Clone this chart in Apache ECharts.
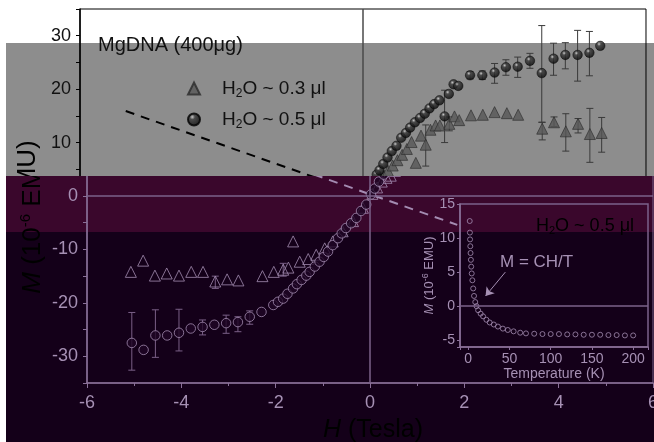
<!DOCTYPE html>
<html><head><meta charset="utf-8">
<script src="https://cdn.jsdelivr.net/npm/echarts@6/dist/echarts.min.js"></script>
<style>
html,body{margin:0;padding:0;background:#fff;width:654px;height:442px;overflow:hidden;}
#top{position:absolute;left:0;top:0;width:654px;height:176px;overflow:hidden;}
#grayband{position:absolute;left:6px;top:43px;width:648px;height:133px;background:#8d8d8d;}
#c1{position:absolute;left:0;top:0;width:654px;height:442px;}
#bot{position:absolute;left:6px;top:176px;width:648px;height:266px;overflow:hidden;background:linear-gradient(to bottom,#3a072c 0,#3a072c 56px,#140019 56px,#140019 100%);}
#c2{position:absolute;left:1px;top:-176px;width:654px;height:442px;}
</style></head>
<body>
<div id="top"><div id="grayband"></div><div id="c1"></div></div>
<div id="bot"><div id="c2"></div></div>
<script>
// ---------- data ----------
const xTickLabels = [-6,-4,-2,0,2,4,6];
const yTickLabels = [-30,-20,-10,0,10,20,30];
const insetXTicks = [0,50,100,150,200];
const insetYTicks = [-5,0,5,10,15];
const seriesNames = ['H2O ~ 0.3 μl','H2O ~ 0.5 μl'];

// H2O ~ 0.3 ul (triangles): [H (Tesla), M (1e-6 EMU)]
const tri03 = [[-5.07,-14.2],[-4.81,-12.1],[-4.56,-14.9],[-4.31,-14.5],[-4.05,-14.9],[-3.79,-14.2],[-3.54,-14.2],[-3.28,-16.0],[-3.03,-15.6],[-2.79,-15.8],[-2.28,-15.0],[-2.04,-14.2],[-1.84,-13.8],[-1.73,-13.4],[-1.63,-8.5],[-1.49,-12.3],[-1.31,-11.8],[-1.14,-11.0],[-0.96,-9.8],[-0.79,-8.5],[-0.58,-6.6],[-0.36,-4.7],[-0.15,-2.2],[0.05,0.4],[0.15,1.6],[0.25,2.7],[0.35,3.4],[0.44,3.8],[0.53,4.7],[0.63,5.7],[0.73,6.7],[0.83,7.7],[0.93,8.8],[1.03,10.1],[1.12,6.2],[1.23,11.3],[1.33,9.6],[1.43,12.4],[1.54,13.2],[1.63,13.2],[1.83,13.5],[1.94,14.9],[2.04,14.2],[2.29,15.1],[2.54,15.2],[2.79,15.7],[3.05,15.5],[3.29,15.2],[3.80,12.6],[4.05,13.8],[4.30,12.1],[4.56,13.5],[4.81,11.6],[5.06,11.8]];

// H2O ~ 0.5 ul (spheres)
const circ05 = [[-5.05,-27.5],[-4.8,-28.8],[-4.55,-26.1],[-4.3,-26.1],[-4.05,-25.6],[-3.8,-24.8],[-3.55,-24.5],[-3.3,-24.1],[-3.05,-23.8],[-2.8,-23.6],[-2.55,-22.6],[-2.3,-21.7],[-2.05,-20.4],[-1.95,-19.8],[-1.84,-19.2],[-1.75,-18.3],[-1.63,-17.3],[-1.55,-16.5],[-1.45,-15.7],[-1.35,-14.9],[-1.28,-14.2],[-1.17,-13.2],[-1.07,-12.3],[-0.98,-11.4],[-0.89,-10.4],[-0.79,-9.2],[-0.68,-7.9],[-0.6,-7.0],[-0.51,-6.0],[-0.4,-5.1],[-0.29,-4.1],[-0.19,-2.8],[-0.08,-1.6],[0.02,0.3],[0.1,1.4],[0.19,2.7],[0.29,4.0],[0.35,4.8],[0.43,6.0],[0.52,7.2],[0.61,8.4],[0.71,9.4],[0.81,10.9],[0.91,11.8],[1.0,12.8],[1.1,13.8],[1.21,14.6],[1.31,15.4],[1.41,16.4],[1.51,17.2],[1.62,17.9],[1.73,14.9],[1.82,19.1],[1.92,20.9],[2.02,20.6],[2.27,22.6],[2.53,22.6],[2.79,23.1],[3.03,24.1],[3.28,24.2],[3.54,25.3],[3.79,23.0],[4.04,25.7],[4.29,26.4],[4.55,26.4],[4.8,26.8],[5.03,28.1]];

// error bars: [H, low, high]
const triErr = [[5.06,8.2,14.7],[4.81,6.3,16.4],[4.56,11.8,14.5],[4.30,8.4,15.4],[4.05,13.0,14.8],[3.80,10.5,13.8],[1.33,5.6,13.3],[1.83,12.2,14.8],[-3.28,-17.3,-15.0],[-1.84,-15.0,-12.6]];
const circErr = [[4.8,22.5,30.8],[4.55,21.5,31.0],[4.29,23.8,28.7],[4.04,22.6,28.6],[3.79,13.8,31.9],[3.54,23.9,26.7],[3.28,22.2,26.0],[3.03,22.6,25.5],[2.79,21.1,24.8],[2.53,21.8,23.4],[2.27,21.9,23.3],[1.73,10.0,19.8],[-5.05,-32.6,-21.8],[-4.55,-30.2,-21.3],[-4.05,-29.0,-21.2],[-3.55,-26.0,-23.2],[-3.05,-25.7,-22.3],[-2.8,-25.4,-22.6],[-2.55,-24.0,-21.5]];

// dashed guide line
const guideLine = [[-5.03,15.9],[1.85,-5.4]];

// inset: M vs Temperature (K)
const insetData = [[1.8,12.5],[2,10.8],[2.2,9.8],[2.5,8.8],[2.8,7.8],[3.2,6.8],[3.6,5.8],[4.2,4.8],[5,3.8],[6,2.6],[7,1.5],[8.5,0.6],[10,0],[12,-0.6],[15,-1.1],[18,-1.5],[22,-2.0],[26,-2.4],[31,-2.7],[36,-3.0],[42,-3.3],[48,-3.5],[55,-3.7],[63,-3.9],[70,-4.0],[80,-4.05],[90,-4.1],[100,-4.1],[110,-4.1],[120,-4.15],[130,-4.15],[140,-4.2],[150,-4.2],[160,-4.2],[170,-4.25],[180,-4.25],[190,-4.3],[200,-4.3]];
const fitArrow = [[45,5],[21,1.5]];

// ---------- options ----------
const FONT = '"Liberation Sans", Arial, sans-serif';

function errSeries(data, color, xi, yi) {
  return {
    type:'custom', xAxisIndex:xi, yAxisIndex:yi, data:data, encode:{x:0, y:[1,2]}, z:1, silent:true,
    renderItem:function(params, api){
      const x = api.value(0), lo = api.value(1), hi = api.value(2);
      const p1 = api.coord([x, lo]), p2 = api.coord([x, hi]);
      const w = 3.5, st = {stroke:color, lineWidth:1};
      return {type:'group', children:[
        {type:'line', shape:{x1:p1[0],y1:p1[1],x2:p2[0],y2:p2[1]}, style:st},
        {type:'line', shape:{x1:p1[0]-w,y1:p1[1],x2:p1[0]+w,y2:p1[1]}, style:st},
        {type:'line', shape:{x1:p2[0]-w,y1:p2[1],x2:p2[0]+w,y2:p2[1]}, style:st}
      ]};
    }
  };
}

function makeOption(t) {
  const grids = [{left:80, top:9, width:576, height:374, show:true, borderColor:t.frame, borderWidth:1, backgroundColor:'transparent'}];
  const xAxes = [{type:'value', gridIndex:0, min:-6, max:6, interval:2,
    axisLine:{onZero:false, lineStyle:{color:t.axis, width:1.5}},
    axisTick:{length:5, lineStyle:{color:t.axis}},
    minorTick:{show:true, splitNumber:2, length:3, lineStyle:{color:t.axis}},
    splitLine:{show:false},
    axisLabel:{formatter:v => xTickLabels.includes(v) ? String(v) : '', color:t.label, fontSize:18, fontFamily:FONT, margin:11}}];
  const yAxes = [{type:'value', gridIndex:0, min:-35, max:35, interval:5,
    axisLine:{onZero:false, lineStyle:{color:t.axis, width:1.5}},
    axisTick:{length:4, lineStyle:{color:t.axis}},
    splitLine:{show:false},
    axisLabel:{formatter:v => yTickLabels.includes(v) ? String(v) : '', color:t.label, fontSize:18, fontFamily:FONT, margin:9}}];

  const series = [
    errSeries(triErr, t.err, 0, 0),
    errSeries(circErr, t.err, 0, 0),
    {type:'line', data:guideLine, symbol:'none', silent:true, z:2,
     lineStyle:{color:t.dash, width:2, type:[9,7]},
     markLine:{silent:true, symbol:'none', label:{show:false}, animation:false,
       data: t.hline ? [{xAxis:0, lineStyle:{color:t.vline, width:1.5, type:'solid'}}, {yAxis:0, lineStyle:{color:t.hline, width:1.5, type:'solid'}}]
                     : [{xAxis:0, lineStyle:{color:t.vline, width:1.5, type:'solid'}}]}},
    {type:'scatter', name:seriesNames[0], data:tri03, symbol:'triangle', symbolSize:11, z:3,
     itemStyle:t.tri},
    {type:'scatter', name:seriesNames[1], data:circ05, symbol:'circle', symbolSize:9.5, z:4,
     itemStyle:t.circle}
  ];

  const graphic = [];
  const yLabelRich = {
    i:{fontStyle:'italic', fontSize:26, fontFamily:FONT, color:t.text},
    n:{fontSize:26, fontFamily:FONT, color:t.text},
    s:{fontSize:15, fontFamily:FONT, color:t.text, padding:[0,0,15,0]}
  };
  graphic.push({type:'text', x:t.yLabelX, y:217, rotation:Math.PI/2, silent:true,
    style:{text:'{i|M}{n| (10}{s|-6}{n| EMU)}', rich:yLabelRich, align:'center', verticalAlign:'middle', textAlign:'center', textVerticalAlign:'middle'}});

  if (t.upper) {
    graphic.push({type:'text', x:98, y:45, silent:true,
      style:{text:'MgDNA (400μg)', fill:t.text, font:'20px ' + FONT, verticalAlign:'middle', textVerticalAlign:'middle'}});
  } else {
    graphic.push({type:'text', x:366, y:430, silent:true,
      style:{text:'{i|H}{n| (Tesla)}', rich:{i:{fontStyle:'italic', fontSize:25, fontFamily:FONT, color:t.text}, n:{fontSize:25, fontFamily:FONT, color:t.text}},
             align:'center', verticalAlign:'middle', textAlign:'center', textVerticalAlign:'middle'}});
    graphic.push({type:'text', x:578, y:226, silent:true,
      style:{text:'{n|H}{s|2}{n|O ~ 0.5 μl}', rich:{n:{fontSize:18, fontFamily:FONT, color:t.text}, s:{fontSize:11, fontFamily:FONT, color:t.text, padding:[10,0,0,0]}},
             align:'center', verticalAlign:'middle', textAlign:'center', textVerticalAlign:'middle'}});
    graphic.push({type:'text', x:493, y:262, silent:true,
      style:{text:'M = CH/T', fill:t.text, font:'17px ' + FONT, verticalAlign:'middle', textVerticalAlign:'middle'}});

    grids.push({left:453, top:204, width:188, height:143, show:true, borderColor:t.frame, borderWidth:1.5, backgroundColor:'transparent'});
    xAxes.push({type:'value', gridIndex:1, min:-10, max:218,
      name:'Temperature (K)', nameLocation:'middle', nameGap:19,
      nameTextStyle:{color:t.label, fontSize:14, fontFamily:FONT},
      axisLine:{onZero:false, lineStyle:{color:t.axis, width:1.5}},
      axisTick:{length:3, lineStyle:{color:t.axis}}, splitLine:{show:false},
      axisLabel:{formatter:v => insetXTicks.includes(v) ? String(v) : '', color:t.label, fontSize:14, fontFamily:FONT, margin:5}});
    yAxes.push({type:'value', gridIndex:1, min:-6, max:15,
      name:'{i|M}{n| (10}{s|-6}{n| EMU)}', nameLocation:'middle', nameGap:22, nameRotate:90,
      nameTextStyle:{color:t.label, fontSize:13, fontFamily:FONT,
        rich:{i:{fontStyle:'italic', fontSize:13, color:t.label}, n:{fontSize:13, color:t.label}, s:{fontSize:9, color:t.label, padding:[0,0,8,0]}}},
      axisLine:{onZero:false, lineStyle:{color:t.axis, width:1.5}},
      axisTick:{length:3, lineStyle:{color:t.axis}}, splitLine:{show:false},
      axisLabel:{formatter:v => insetYTicks.includes(v) ? String(v) : '', color:t.label, fontSize:14, fontFamily:FONT, margin:5}});
    series.push({type:'scatter', xAxisIndex:1, yAxisIndex:1, data:insetData, symbol:'circle', symbolSize:5, z:3,
      itemStyle:{color:'rgba(0,0,0,0)', borderColor:t.circle.borderColor, borderWidth:1},
      markLine:{silent:true, symbol:'none', label:{show:false}, animation:false,
        lineStyle:{color:t.hline, width:1.5, type:'solid'}, data:[{yAxis:0}]}});
    series.push({type:'line', xAxisIndex:1, yAxisIndex:1, data:[], symbol:'none', silent:true,
      markLine:{silent:true, symbol:['none','arrow'], symbolSize:8, label:{show:false}, animation:false,
        lineStyle:{color:t.label, width:1, type:'solid'},
        data:[[{coord:fitArrow[0]},{coord:fitArrow[1]}]]}});
  }

  const opt = {animation:false, backgroundColor:'transparent', grid:grids, xAxis:xAxes, yAxis:yAxes, series:series, graphic:graphic};
  if (t.upper) {
    const legendBase = {orient:'vertical', left:187, padding:0, itemWidth:12, itemHeight:12, itemGap:0, selectedMode:false,
      formatter:name => '{p|}' + name.replace('H2O', '{n|H}{s|2}{n|O}'),
      textStyle:{fontSize:19, fontFamily:FONT, color:t.text,
        rich:{p:{width:17}, n:{fontSize:19, fontFamily:FONT, color:t.text}, s:{fontSize:12, fontFamily:FONT, color:t.text, padding:[10,0,0,0]}}}};
    opt.legend = [Object.assign({}, legendBase, {data:[seriesNames[0]], top:79}),
                  Object.assign({}, legendBase, {data:[seriesNames[1]], top:110})];
  }
  return opt;
}

const sphere = {type:'radial', x:0.38, y:0.32, r:0.75, colorStops:[{offset:0,color:'#d8d8d8'},{offset:0.25,color:'#3a3a3a'},{offset:1,color:'#000'}]};
const upperTheme = {upper:true, frame:'#000', axis:'#000', label:'#111', text:'#111', vline:'#4a4a4a', hline:null,
  circle:{color:sphere, borderColor:'#000', borderWidth:0.6},
  tri:{color:'#585858', borderColor:'#2a2a2a', borderWidth:0.8},
  err:'#3a3a3a', dash:'#000', yLabelX:28};
const lowerTheme = {upper:false, frame:'#7b628a', axis:'#8a7098', label:'#a690b4', text:'#a690b4', vline:'#7b628a', hline:'#7b628a',
  circle:{color:'#1e0524', borderColor:'#a48cb2', borderWidth:1},
  tri:{color:'rgba(0,0,0,0)', borderColor:'#a48cb2', borderWidth:1},
  err:'#7a5f87', dash:'#a48cb2', yLabelX:26};

const c1 = echarts.init(document.getElementById('c1'), null, {renderer:'canvas', width:654, height:442});
c1.setOption(makeOption(upperTheme));
const c2 = echarts.init(document.getElementById('c2'), null, {renderer:'canvas', width:654, height:442});
c2.setOption(makeOption(lowerTheme));
</script>
</body></html>
